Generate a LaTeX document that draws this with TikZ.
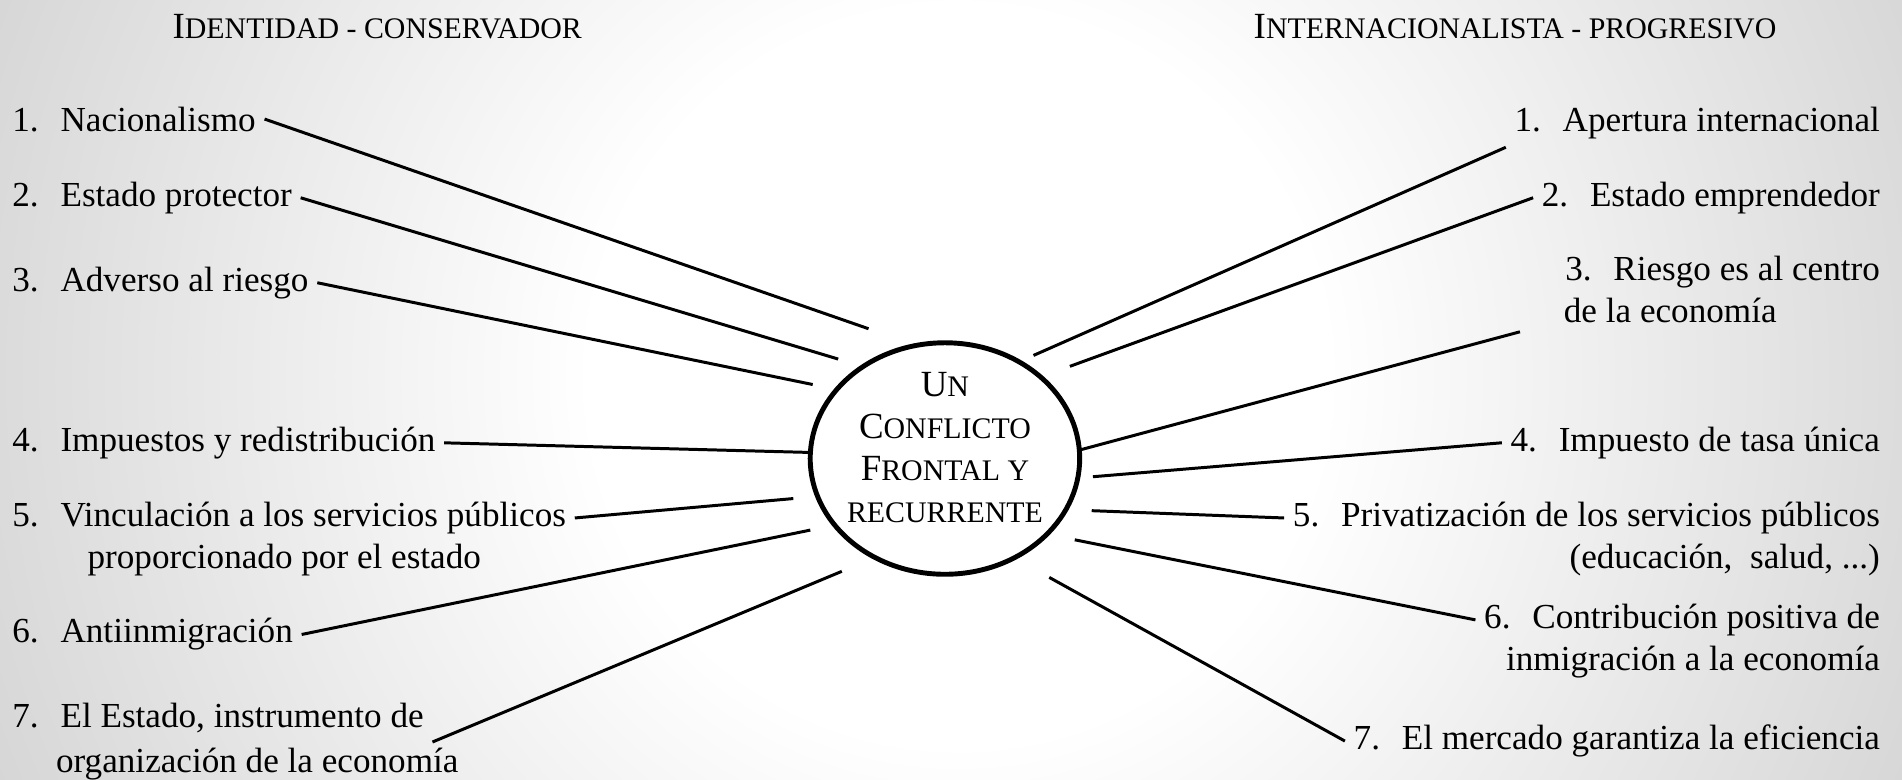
\documentclass[tikz,border=0pt]{standalone}
\usepackage{fontspec}
\setmainfont{Liberation Serif}
\usetikzlibrary{positioning}
\usetikzlibrary{shapes}
\pgfdeclareradialshading{bgglow}{\pgfpoint{0bp}{0bp}}{color(0bp)=(white); color(8bp)=(white); color(50bp)=(gray!92)}
\newcommand{\fsc}[2]{{\fontsize{21}{24}\selectfont #1}{\fontsize{17}{24}\selectfont #2}}
\newcommand{\nro}[1]{#1.\hspace{0.62em}}
\begin{document}
\begin{tikzpicture}[x=0.02426cm,y=-0.02426cm,
	item/.style={font=\fontsize{20}{24}\selectfont,inner sep=0pt,outer sep=5pt},
	conservador/.style={item,anchor=base west},
	progresivo/.style={item,anchor=base east},
	ray/.style={line width=1.7pt},
	conflicto/.style={ellipse,draw,line width=2.8pt,minimum width=5.39cm,minimum height=4.63cm,inner sep=0pt}]
					\useasboundingbox (0,0) rectangle (1568,643);
					\begin{scope}
						\clip (0,0) rectangle (1568,643);
						\shade[shading=bgglow] (790,310) circle [radius=23cm];
					\end{scope}
					% titulos
					\node[item,anchor=base] (tizq) at (311,32) {\fsc{I}{DENTIDAD - CONSERVADOR}};
					\node[item,anchor=base] (tder) at (1249,32) {\fsc{I}{NTERNACIONALISTA - PROGRESIVO}};
					% centro
					\node[conflicto] (conf) at (779,378) {};
					\node[item,font=\fontsize{17}{24}\selectfont,align=center] (lema) at (779,369) {\fsc{U}{N}\\\fsc{C}{ONFLICTO}\\\fsc{F}{RONTAL Y}\\RECURRENTE};
					% identidad - conservador
					\node[conservador] (id1) at (3,108) {\nro{1}Nacionalismo};
					\node[conservador] (id2) at (3,170) {\nro{2}Estado protector};
					\node[conservador] (id3) at (3,240) {\nro{3}Adverso al riesgo};
					\node[conservador] (id4) at (3,372) {\nro{4}Impuestos y redistribución};
					\node[conservador] (id5) at (3,434) {\nro{5}Vinculación a los servicios públicos};
					\node[conservador] (id5b) at (65,469) {proporcionado por el estado};
					\node[conservador] (id6) at (3,530) {\nro{6}Antiinmigración};
					\node[conservador] (id7) at (3,600) {\nro{7}El Estado, instrumento de};
					\node[conservador] (id7b) at (39,637) {organización de la economía};
					% internacionalista - progresivo
					\node[progresivo] (pr1) at (1557,108) {\nro{1}Apertura internacional};
					\node[progresivo] (pr2) at (1557,170) {\nro{2}Estado emprendedor};
					\node[progresivo] (pr3) at (1557,231) {\nro{3}Riesgo es al centro};
					\node[conservador] (pr3b) at (1282,266) {de la economía};
					\node[progresivo] (pr4) at (1557,372) {\nro{4}Impuesto de tasa única};
					\node[progresivo] (pr5) at (1557,434) {\nro{5}Privatización de los servicios públicos};
					\node[progresivo] (pr5b) at (1557,469) {(educación,\ \ salud, ...)};
					\node[progresivo] (pr6) at (1557,518) {\nro{6}Contribución positiva de};
					\node[progresivo] (pr6b) at (1557,553) {inmigración a la economía};
					\node[progresivo] (pr7) at (1557,618) {\nro{7}El mercado garantiza la eficiencia};
					% extremos junto al centro
					\coordinate (ci1) at (716,271);
					\coordinate (ci2) at (691,296);
					\coordinate (ci3) at (670,317);
					\coordinate (ci4) at (668,373);
					\coordinate (ci5) at (654,411);
					\coordinate (ci6) at (668,437);
					\coordinate (ci7) at (694,471);
					\coordinate (cp1) at (852,293);
					\coordinate (cp2) at (882,302);
					\coordinate (cp3) at (890,371);
					\coordinate (cp4) at (901,393);
					\coordinate (cp5) at (900,421);
					\coordinate (cp6) at (886,445);
					\coordinate (cp7) at (865,476);
					\draw[ray] (id1.east) -- (ci1);
					\draw[ray] (id2.east) -- (ci2);
					\draw[ray] (id3.east) -- (ci3);
					\draw[ray] (id4.east) -- (ci4);
					\draw[ray] (id5.east) -- (ci5);
					\draw[ray] (id6.east) -- (ci6);
					\draw[ray] (id7.south east) -- (ci7);
					\draw[ray] (pr1.south west) -- (cp1);
					\draw[ray] (pr2.west) -- (cp2);
					\draw[ray] ([xshift=-20pt]pr3b.south west) -- (cp3);
					\draw[ray] (pr4.west) -- (cp4);
					\draw[ray] (pr5.west) -- (cp5);
					\draw[ray] (pr6.west) -- (cp6);
					\draw[ray] (pr7.west) -- (cp7);
				\end{tikzpicture}
\end{document}
